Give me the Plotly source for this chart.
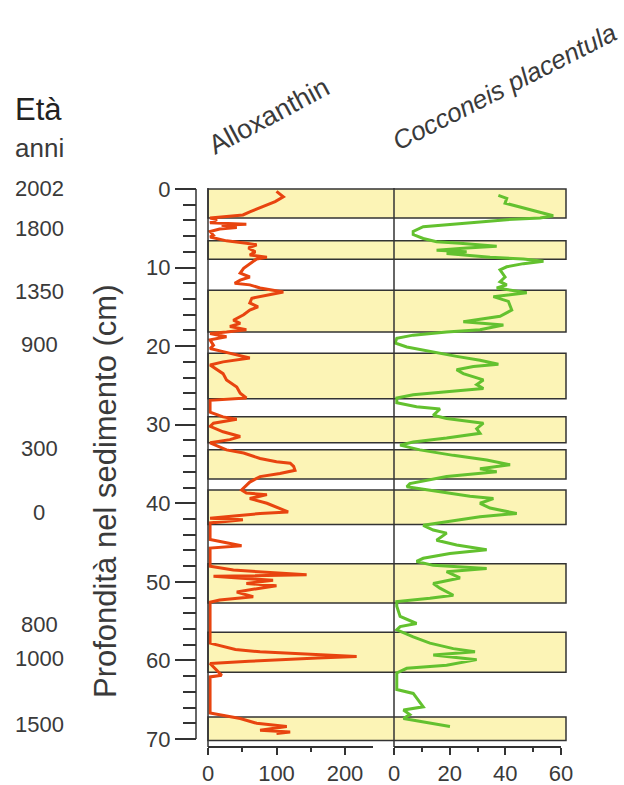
import plotly.graph_objects as go

W, H = 624, 785

# ---------------- data ----------------
allox_depth = [0.3, 1.0, 1.6, 2.0, 2.4, 2.9, 3.3, 3.5, 3.7, 3.9, 4.3, 4.5, 4.6, 4.9, 5.1, 5.4, 5.9, 6.1,
               6.6, 6.9, 7.1, 7.5, 8.0, 8.4, 8.7, 8.9, 9.5, 10.1, 10.7, 11.2, 11.6, 12.0, 12.2, 12.6,
               13.1, 13.5, 13.9, 14.5, 15.0, 15.4, 16.0, 16.7, 17.1, 17.5, 17.9, 18.2, 18.4, 18.8,
               19.2, 19.9, 20.3, 20.7, 21.1, 21.5, 22.0, 22.4, 23.5, 24.3, 25.2, 26.0, 26.6, 26.9,
               28.4, 29.0, 29.3, 29.8, 30.2, 30.9, 31.5, 31.9, 32.3, 33.2, 33.6, 34.3, 34.7, 34.9,
               35.3, 35.8, 36.2, 36.6, 37.3, 38.3, 38.7, 38.9, 39.4, 40.0, 41.1, 41.3, 41.6, 41.9,
               42.1, 42.5, 44.6, 45.1, 45.4, 45.7, 48.0, 48.5, 49.1, 49.3, 49.8, 50.2, 50.5, 50.8,
               51.3, 51.9, 52.3, 52.6, 57.8, 58.6, 58.9, 59.1, 59.3, 59.5, 59.7, 59.9, 60.1, 60.4,
               61.9, 62.1, 66.7, 67.4, 68.0, 68.4, 68.9, 69.1, 69.3]
allox_value = [100, 110, 98, 86, 76, 61, 51, 27, 3, 13, 3, 56, 20, 42, 17, 3, 8, 3,
               27, 56, 71, 59, 69, 61, 86, 71, 61, 52, 47, 61, 47, 39, 61, 76,
               110, 86, 64, 61, 73, 61, 52, 37, 47, 32, 56, 27, 3, 27,
               3, 8, 3, 22, 42, 61, 22, 3, 22, 27, 42, 47, 56, 3,
               3, 22, 42, 8, 3, 22, 47, 32, 3, 27, 52, 76, 100, 120,
               125, 127, 105, 76, 61, 49, 56, 86, 61, 86, 117, 76, 42, 3,
               51, 3, 3, 30, 49, 3, 3, 37, 144, 8, 95, 56, 100, 76,
               42, 66, 17, 3, 3, 40, 76, 120, 165, 217, 160, 100, 60, 3,
               20, 3, 3, 47, 71, 115, 76, 120, 100]

cocc_depth = [0.8, 1.2, 1.8, 2.3, 2.7, 3.1, 3.4, 3.7, 3.9, 4.2, 4.6, 4.8, 5.4, 5.8, 6.3, 6.7, 6.9,
              7.3, 7.5, 7.8, 8.0, 8.2, 8.7, 8.9, 9.2, 9.5, 9.9, 10.3, 11.2, 11.8, 12.2, 12.6, 13.2,
              13.7, 14.3, 15.4, 16.2, 16.9, 17.3, 17.9, 18.2, 18.6, 19.0, 19.6, 20.1, 20.7, 21.3,
              21.8, 22.3, 22.6, 23.0, 23.5, 24.3, 24.9, 25.4, 25.8, 26.2, 26.6, 27.2, 27.7, 28.0,
              28.8, 29.2, 29.8, 30.5, 31.1, 31.7, 32.2, 32.6, 33.2, 33.9, 34.5, 35.1, 35.6, 36.0,
              36.6, 37.5, 37.9, 38.5, 39.1, 39.4, 40.0, 40.6, 41.3, 41.7, 42.3, 42.8, 43.4, 43.8,
              44.7, 45.3, 45.9, 46.4, 47.0, 47.4, 47.9, 48.3, 48.7, 49.5, 50.2, 50.8, 51.7, 52.1,
              52.5, 53.1, 54.4, 55.3, 55.7, 56.1, 57.0, 57.8, 58.5, 58.9, 59.3, 59.9, 60.6, 61.0,
              61.6, 62.9, 63.7, 64.2, 65.9, 66.3, 66.9, 67.4, 68.0, 68.4]
cocc_value = [37.5, 40.5, 39.9, 45.3, 48.9, 53.7, 57.2, 52.5, 40.5, 30.9, 18.9, 10.5, 6.9, 6.9, 10.5, 15.3, 23.7,
              36.9, 26.1, 15.3, 26.1, 18.9, 34.5, 46.5, 53.7, 46.5, 40.5, 38.1, 39.9, 38.1, 40.5, 36.9, 47.7,
              35.7, 41.1, 42.3, 38.1, 24.9, 39.3, 30.9, 18.9, 6.9, 1.0, 0.4, 4.6, 12.9, 22.5,
              30.9, 37.5, 28.5, 22.5, 24.9, 32.1, 29.7, 32.1, 18.9, 6.9, 1.0, 1.0, 8.1, 16.5,
              14.1, 18.9, 32.1, 29.7, 30.9, 18.9, 6.9, 2.2, 9.3, 21.3, 33.3, 41.7, 30.9, 36.9,
              18.9, 5.7, 4.6, 15.3, 27.3, 35.7, 30.9, 34.5, 44.1, 30.9, 18.9, 10.5, 14.1, 18.9,
              15.3, 22.5, 33.3, 20.1, 10.5, 8.1, 14.1, 33.3, 18.9, 23.7, 14.1, 16.5, 21.3, 12.9,
              1.0, 1.0, 2.2, 8.1, 2.2, 1.0, 6.9, 12.9, 21.3, 29.1, 14.1, 29.7, 18.9, 4.6,
              1.0, 1.0, 1.0, 6.9, 10.5, 3.4, 5.7, 3.4, 12.9, 20.1]

band_top = [0, 6.6, 12.9, 20.9, 29.0, 33.2, 38.3, 47.7, 56.4, 67.2]
band_bottom = [3.7, 8.95, 18.2, 26.7, 32.3, 36.9, 42.7, 52.7, 61.5, 70.2]

age_labels = ["2002", "1800", "1350", "900", "300", "0", "800", "1000", "1500"]
age_depths = [0, 5, 13, 19.8, 33, 41.2, 55.4, 59.7, 68.2]

allox_ticks = [0, 100, 200]
cocc_ticks = [0, 20, 40, 60]
depth_ticks = [0, 10, 20, 30, 40, 50, 60, 70]

# ---------------- styling / geometry ----------------
FONT = "Liberation Sans, Arial, sans-serif"
TXT = "#3a3a3a"
AX = "#333333"
RED = "#E8440F"
GREEN = "#63C12F"
BAND_FILL = "#FCF4B6"

def fx(p):
    return p / W

def fy(p):
    return 1 - p / H

PXCM = (739 - 189) / 70.0
Y_TOP_EXTRA, Y_BOT_EXTRA = 0.4, 0.8
y_dom = [fy(739 + Y_BOT_EXTRA * PXCM), fy(189 - Y_TOP_EXTRA * PXCM)]
y_rng = [70 + Y_BOT_EXTRA, -Y_TOP_EXTRA]

A_PX = (345 - 208) / 200.0
ax_dom = [fx(208), fx(373)]
ax_rng = [0, (373 - 208) / A_PX]
cx_dom = [fx(394), fx(561)]
cx_rng = [0, 60]
BAND_RIGHT = fx(566)
BOTTOM_POS = fy(747)
TOP_POS = fy(188)

fig = go.Figure()
fig.add_trace(go.Scatter(x=allox_value, y=allox_depth, xaxis="x", yaxis="y", mode="lines",
                         line=dict(color=RED, width=3), showlegend=False, hoverinfo="skip"))
fig.add_trace(go.Scatter(x=cocc_value, y=cocc_depth, xaxis="x2", yaxis="y", mode="lines",
                         line=dict(color=GREEN, width=3), showlegend=False, hoverinfo="skip"))

shapes = []
for t, b in zip(band_top, band_bottom):
    shapes.append(dict(type="rect", xref="paper", yref="y", x0=ax_dom[0], x1=BAND_RIGHT, y0=t, y1=b,
                       fillcolor=BAND_FILL, line=dict(color=AX, width=1.5), layer="below"))
for xd in (ax_dom[0], cx_dom[0]):
    shapes.append(dict(type="line", xref="paper", yref="paper", x0=xd, x1=xd, y0=BOTTOM_POS, y1=TOP_POS,
                       line=dict(color=AX, width=1.5), layer="above"))
shapes.append(dict(type="line", xref="paper", yref="y", x0=fx(196), x1=fx(196), y0=0, y1=70,
                   line=dict(color=AX, width=1.5), layer="above"))

common_x = dict(showgrid=False, zeroline=False, showline=True, linecolor=AX, linewidth=1.5,
                ticks="outside", tickcolor=AX, tickwidth=1.5, fixedrange=True)

annotations = [
    dict(text="Età", x=fx(13), y=fy(110), xref="paper", yref="paper", xanchor="left", yanchor="middle",
         showarrow=False, font=dict(family=FONT, size=31, color="#222222")),
    dict(text="anni", x=fx(13), y=fy(148), xref="paper", yref="paper", xanchor="left", yanchor="middle",
         showarrow=False, font=dict(family=FONT, size=26, color=TXT)),
    dict(text="Profondità nel sedimento (cm)", textangle=-90, x=fx(105), y=fy(491), xref="paper",
         yref="paper", xanchor="center", yanchor="middle", showarrow=False,
         font=dict(family=FONT, size=31, color=TXT)),
    dict(text="Alloxanthin", textangle=-28, x=fx(269), y=fy(116), xref="paper", yref="paper",
         xanchor="center", yanchor="middle", showarrow=False, font=dict(family=FONT, size=27, color=TXT)),
    dict(text="<i>Cocconeis placentula</i>", textangle=-27, x=fx(504), y=fy(87), xref="paper", yref="paper",
         xanchor="center", yanchor="middle", showarrow=False, font=dict(family=FONT, size=26, color=TXT)),
]
for lab, d in zip(age_labels, age_depths):
    annotations.append(dict(text=lab, x=fx(39), y=d, xref="paper", yref="y", xanchor="center",
                            yanchor="middle", showarrow=False, font=dict(family=FONT, size=22, color=TXT)))

fig.update_layout(
    width=W, height=H, margin=dict(l=0, r=0, t=0, b=0, autoexpand=False),
    paper_bgcolor="white", plot_bgcolor="rgba(0,0,0,0)",
    font=dict(family=FONT, color=TXT, size=22),
    showlegend=False,
    shapes=shapes, annotations=annotations,
    xaxis=dict(domain=ax_dom, range=ax_rng, anchor="free", position=BOTTOM_POS, side="bottom",
               tickvals=allox_ticks, ticklen=7, tickfont=dict(family=FONT, size=22, color=TXT),
               minor=dict(dtick=50, tick0=0, ticklen=4, ticks="outside", tickcolor=AX, tickwidth=1.5),
               **common_x),
    xaxis2=dict(domain=cx_dom, range=cx_rng, anchor="free", position=BOTTOM_POS, side="bottom",
                tickvals=cocc_ticks, ticklen=7, tickfont=dict(family=FONT, size=22, color=TXT),
                minor=dict(dtick=10, tick0=0, ticklen=4, ticks="outside", tickcolor=AX, tickwidth=1.5),
                **common_x),
    xaxis3=dict(overlaying="x", range=ax_rng, anchor="free", position=TOP_POS, side="top",
                tickvals=allox_ticks, ticklen=8, showticklabels=False,
                minor=dict(dtick=50, tick0=0, ticklen=5, ticks="outside", tickcolor=AX, tickwidth=1.5),
                **common_x),
    xaxis4=dict(overlaying="x2", range=cx_rng, anchor="free", position=TOP_POS, side="top",
                tickvals=cocc_ticks, ticklen=8, showticklabels=False,
                minor=dict(dtick=10, tick0=0, ticklen=5, ticks="outside", tickcolor=AX, tickwidth=1.5),
                **common_x),
    yaxis=dict(domain=y_dom, range=y_rng, anchor="free", position=fx(196), side="left",
               showgrid=False, zeroline=False, showline=False, tickvals=depth_ticks,
               ticks="outside", ticklen=21, tickcolor=AX, tickwidth=1.5,
               tickfont=dict(family=FONT, size=22, color=TXT),
               minor=dict(dtick=2, tick0=0, ticklen=13, ticks="outside", tickcolor=AX, tickwidth=1.5),
               fixedrange=True),
)

fig.write_html("out.html", config={"responsive": False, "displayModeBar": False},
               post_script="document.body.style.margin='0';document.body.style.overflow='hidden';")
